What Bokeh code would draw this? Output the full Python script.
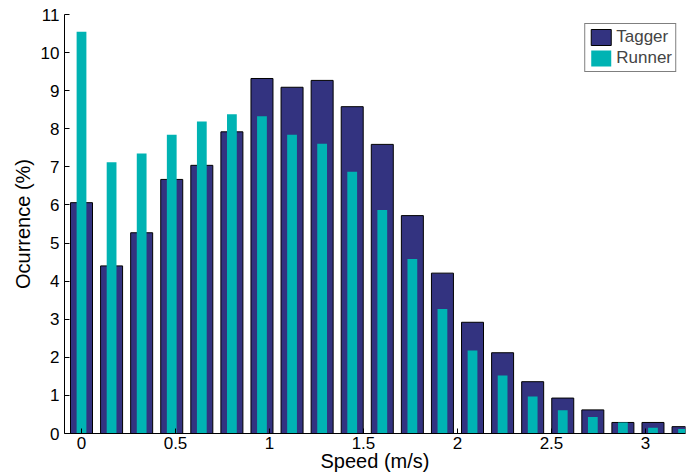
from bokeh.plotting import figure
from bokeh.models import ColumnDataSource, FixedTicker, Range1d, Legend, LegendItem
from bokeh.embed import file_html
from bokeh.resources import INLINE

# ---- data ----
speed_bins = [0.00, 0.16, 0.32, 0.48, 0.64, 0.80, 0.96, 1.12, 1.28, 1.44,
              1.60, 1.76, 1.92, 2.08, 2.24, 2.40, 2.56, 2.72, 2.88, 3.04, 3.20]
tagger = [6.06, 4.40, 5.27, 6.67, 7.04, 7.92, 9.32, 9.09, 9.27, 8.58,
          7.59, 5.72, 4.21, 2.92, 2.12, 1.36, 0.93, 0.62, 0.29, 0.29, 0.18]
runner = [10.55, 7.12, 7.35, 7.84, 8.19, 8.38, 8.33, 7.84, 7.61, 6.87,
          5.87, 4.58, 3.27, 2.18, 1.52, 0.97, 0.61, 0.43, 0.29, 0.15, 0.12]
x_ticks = [0, 0.5, 1, 1.5, 2, 2.5, 3]
x_tick_labels = ["0", "0.5", "1", "1.5", "2", "2.5", "3"]
y_ticks = [0, 1, 2, 3, 4, 5, 6, 7, 8, 9, 10, 11]
series_names = ["Tagger", "Runner"]
x_label = "Speed (m/s)"
y_label = "Ocurrence (%)"

FONT = "Liberation Sans"
NAVY = "#333380"
TEAL = "#00B3B3"

src = ColumnDataSource(dict(x=speed_bins, tagger=tagger, runner=runner))

p = figure(width=691, height=474, output_backend="svg", toolbar_location=None,
           x_range=Range1d(-0.0905, 3.213), y_range=Range1d(0, 11),
           min_border_left=64, min_border_right=6, min_border_top=14,
           min_border_bottom=0)

r_tag = p.vbar(x="x", top="tagger", width=0.117, bottom=0, source=src,
               fill_color=NAVY, line_color="black", line_width=1)
r_run = p.vbar(x="x", top="runner", width=0.052, bottom=0, source=src,
               fill_color=TEAL, line_color=None)

p.xgrid.visible = False
p.ygrid.visible = False
p.outline_line_color = None
p.background_fill_color = "white"
p.border_fill_color = "white"

for ax in (p.xaxis[0], p.yaxis[0]):
    ax.major_tick_in = 5
    ax.major_tick_out = 0
    ax.minor_tick_line_color = None
    ax.axis_line_color = "black"
    ax.major_tick_line_color = "black"
    ax.major_label_text_font = FONT
    ax.major_label_text_font_size = "17px"
    ax.major_label_text_color = "black"
    ax.axis_label_text_font = FONT
    ax.axis_label_text_font_size = "20px"
    ax.axis_label_text_font_style = "normal"
    ax.axis_label_text_color = "black"

p.xaxis[0].ticker = FixedTicker(ticks=x_ticks)
p.xaxis[0].major_label_overrides = {t: l for t, l in zip(x_ticks, x_tick_labels)}
p.xaxis[0].axis_label = x_label
p.xaxis[0].major_label_standoff = 3
p.xaxis[0].axis_label_standoff = -2

p.yaxis[0].ticker = FixedTicker(ticks=y_ticks)
p.yaxis[0].axis_label = y_label
p.yaxis[0].major_label_standoff = 5
p.yaxis[0].axis_label_standoff = 4

legend = Legend(items=[LegendItem(label=series_names[0], renderers=[r_tag]),
                       LegendItem(label=series_names[1], renderers=[r_run])],
                location="top_right", margin=9, padding=3, spacing=1,
                glyph_width=25, glyph_height=20, label_height=20,
                label_standoff=3, label_text_font=FONT,
                label_text_font_size="17px", border_line_color="black",
                border_line_width=1, background_fill_color="white",
                background_fill_alpha=1.0)
p.add_layout(legend)

open("out.html", "w").write(file_html(p, INLINE))
